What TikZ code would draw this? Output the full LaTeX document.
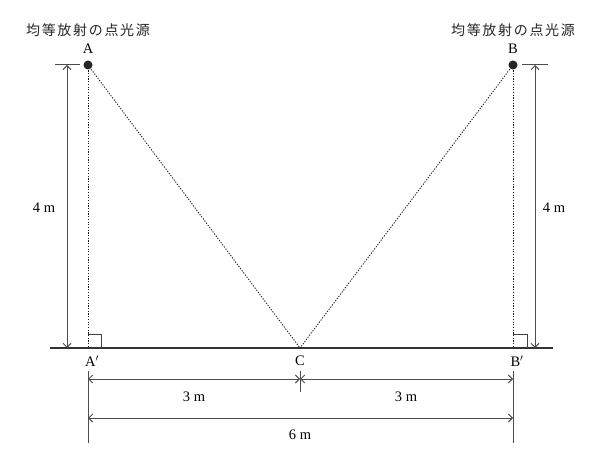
\documentclass[tikz,border=0pt]{standalone}
\usepackage{fontspec}
\setmainfont{Liberation Serif}
\newfontfamily\cjk[LetterSpace=12]{Noto Sans CJK JP}
\usetikzlibrary{positioning,calc,arrows.meta}

\tikzset{
	dim/.style={draw=black!70,line width=1pt},
	dimarrow/.style={dim,{Straight Barb[length=4pt,width=8pt]}-{Straight Barb[length=4pt,width=8pt]}},
	ray/.style={draw=black!90,line width=0.9pt,dash pattern=on 1.2pt off 1.5pt},
	src/.style={cjk font,text=black!85},
	cjk font/.style={font=\cjk\fontsize{14}{16}\selectfont},
}

\begin{document}
\begin{tikzpicture}[x=1pt,y=-1pt,font=\fontsize{14.5}{17}\selectfont]
\useasboundingbox (0,0) rectangle (600,473);

% points
\coordinate(A) at (88,65);
\coordinate(B) at (513,65);
\coordinate(A') at (88,348);
\coordinate(C) at (300,348);
\coordinate(B') at (513,348);
\coordinate(gl) at (50,348);
\coordinate(gr) at (553,348);

\node[src] (srcA) at (88,30) {均等放射の点光源};
\node[src] (srcB) at (513,30) {均等放射の点光源};
\node (lA) at (88,49) {A};
\node (lB) at (513,49) {B};

% ground
\draw[line width=2.6pt,black!80] (gl)--(gr);

% rays
\foreach \x/\y in {A/A',A/C,B/C,B/B'}
	\draw[ray](\x)--(\y);
\foreach \x in {A,B}
	\fill[black!85](\x)circle[radius=4.5pt];

% right angles
\draw[black!75,line width=0.8pt] (88,334)--(101,334)--(101,348);
\draw[black!75,line width=0.8pt] (513,334)--(527,334)--(527,348);

\node (lA') at (92,361) {A$'$};
\node (lC) at (300,361) {C};
\node (lB') at (517,361) {B$'$};

% heights
\coordinate(hl1) at (67,65);
\coordinate(hl2) at (67,348);
\coordinate(hr1) at (535,65);
\coordinate(hr2) at (535,348);
\draw[dim] (55,65)--(80,65);
\draw[dim] (522,65)--(548,65);
\draw[dimarrow] (hl1)--(hl2);
\draw[dimarrow] (hr1)--(hr2);
\node (hA) at (44,208) {4 m};
\node (hB) at (554,208) {4 m};

% widths
\draw[dim] (88,371)--(88,443);
\draw[dim] (513,371)--(513,443);
\draw[dim] (300,371)--(300,392);
\coordinate(w1) at (88,379);
\coordinate(w2) at (300,379);
\coordinate(w3) at (513,379);
\coordinate(w4) at (88,418);
\coordinate(w5) at (513,418);
\draw[dimarrow] (w1)--(w2);
\draw[dimarrow] (w2)--(w3);
\draw[dimarrow] (w4)--(w5);
\node (dl) at (194,397) {3 m};
\node (dr) at (406,397) {3 m};
\node (dt) at (300,435) {6 m};

\end{tikzpicture}
\end{document}
